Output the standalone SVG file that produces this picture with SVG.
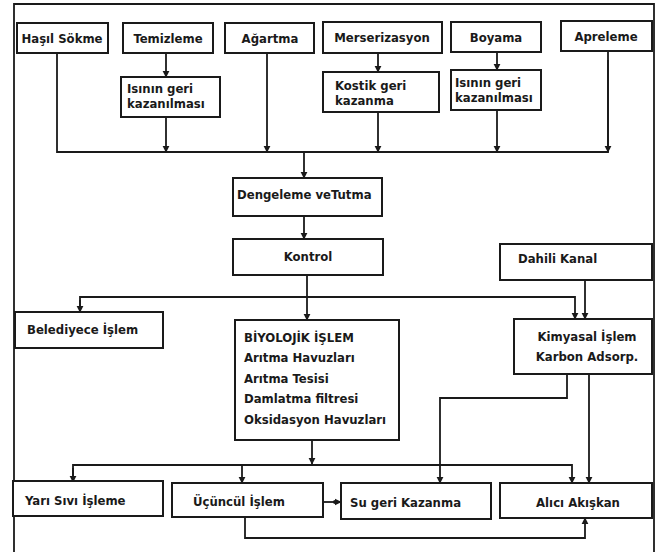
<svg xmlns="http://www.w3.org/2000/svg" width="659" height="552" viewBox="0 0 659 552">
<defs>
<marker id="ah" viewBox="0 0 10 10" refX="9" refY="5" markerWidth="7" markerHeight="8" markerUnits="userSpaceOnUse" orient="auto">
<path d="M0,0 L10,5 L0,10 Z" fill="#1a1a1a"/>
</marker>
</defs>
<style>
.b{fill:#fff;stroke:#1a1a1a;stroke-width:2}
.c{fill:none;stroke:#1a1a1a;stroke-width:1.8}
.a{marker-end:url(#ah)}
text{font-family:"DejaVu Sans Condensed","DejaVu Sans",sans-serif;font-weight:bold;font-size:13px;fill:#1a1a1a}
.m{text-anchor:middle}
</style>
<rect width="659" height="552" fill="#fff"/>
<path d="M14,552 V4 H654 V552" class="c"/>

<g id="connectors">
<line x1="166" y1="53" x2="166" y2="77" class="c a"/>
<line x1="378" y1="53" x2="378" y2="72" class="c a"/>
<line x1="497" y1="52" x2="497" y2="70" class="c a"/>
<path d="M57,53 V152 H608 V51" class="c"/>
<line x1="166" y1="117" x2="166" y2="152" class="c a"/>
<line x1="267" y1="53" x2="267" y2="152" class="c a"/>
<line x1="378" y1="112" x2="378" y2="152" class="c a"/>
<line x1="497" y1="110" x2="497" y2="152" class="c a"/>
<line x1="608" y1="60" x2="608" y2="152" class="c a"/>
<line x1="304" y1="152" x2="304" y2="178" class="c a"/>
<line x1="304" y1="216" x2="304" y2="239" class="c a"/>
<line x1="307" y1="275" x2="307" y2="320" class="c a"/>
<path d="M80,312 V297 H575 V319" class="c a"/>
<line x1="80" y1="300" x2="80" y2="312" class="c a"/>
<line x1="585" y1="280" x2="585" y2="319" class="c a"/>
<line x1="312" y1="440" x2="312" y2="464" class="c a"/>
<path d="M73,482 V465 H572 V483" class="c a"/>
<line x1="73" y1="468" x2="73" y2="482" class="c a"/>
<line x1="242" y1="465" x2="242" y2="483" class="c a"/>
<path d="M567,374 V398 H440 V483" class="c a"/>
<line x1="589" y1="374" x2="589" y2="483" class="c a"/>
<line x1="323" y1="502" x2="341" y2="502" class="c a"/>
<circle cx="335" cy="502" r="2" fill="#1a1a1a"/>
<path d="M245,517 V538 H585 V518" class="c a"/>
</g>

<g id="hasil"><rect x="17" y="23" width="91" height="30" class="b"/><text x="62" y="43" class="m">Haşıl Sökme</text></g>
<g id="temizleme"><rect x="123" y="23" width="90" height="30" class="b"/><text x="168" y="43" class="m">Temizleme</text></g>
<g id="agartma"><rect x="225" y="23" width="89" height="30" class="b"/><text x="270" y="43" class="m">Ağartma</text></g>
<g id="merserizasyon"><rect x="323" y="22" width="119" height="31" class="b"/><text x="382" y="42" class="m">Merserizasyon</text></g>
<g id="boyama"><rect x="451" y="22" width="90" height="30" class="b"/><text x="496" y="42" class="m">Boyama</text></g>
<g id="apreleme"><rect x="561" y="21" width="91" height="30" class="b"/><text x="606" y="41" class="m">Apreleme</text></g>

<g id="isi1"><rect x="121" y="77" width="99" height="40" class="b"/><text x="127" y="93">Isının geri</text><text x="127" y="108">kazanılması</text></g>
<g id="kostik"><rect x="323" y="72" width="116" height="40" class="b"/><text x="335" y="90">Kostik geri</text><text x="335" y="105">kazanma</text></g>
<g id="isi2"><rect x="451" y="70" width="90" height="40" class="b"/><text x="455" y="87">Isının geri</text><text x="455" y="102">kazanılması</text></g>

<g id="dengeleme"><rect x="233" y="178" width="149" height="38" class="b"/><text x="237" y="199">Dengeleme veTutma</text></g>
<g id="kontrol"><rect x="233" y="239" width="150" height="36" class="b"/><text x="308" y="261" class="m">Kontrol</text></g>
<g id="dahili"><rect x="500" y="244" width="152" height="36" class="b"/><text x="518" y="263">Dahili Kanal</text></g>

<g id="belediye"><rect x="15" y="312" width="148" height="36" class="b"/><text x="27" y="334">Belediyece İşlem</text></g>
<g id="biyolojik"><rect x="235" y="320" width="164" height="120" class="b"/>
<text x="244" y="342">BİYOLOJİK İŞLEM</text>
<text x="244" y="362">Arıtma Havuzları</text>
<text x="244" y="383">Arıtma Tesisi</text>
<text x="244" y="403">Damlatma filtresi</text>
<text x="244" y="424">Oksidasyon Havuzları</text></g>
<g id="kimyasal"><rect x="514" y="319" width="138" height="55" class="b"/><text x="587" y="341" class="m">Kimyasal İşlem</text><text x="587" y="361" class="m">Karbon Adsorp.</text></g>

<g id="yari"><rect x="13" y="481" width="150" height="35" class="b"/><text x="25" y="505">Yarı Sıvı İşleme</text></g>
<g id="ucuncul"><rect x="172" y="483" width="151" height="34" class="b"/><text x="193" y="506">Üçüncül İşlem</text></g>
<g id="su"><rect x="341" y="483" width="150" height="36" class="b"/><text x="350" y="507">Su geri Kazanma</text></g>
<g id="alici"><rect x="500" y="483" width="152" height="35" class="b"/><text x="578" y="507" class="m">Alıcı Akışkan</text></g>
</svg>
